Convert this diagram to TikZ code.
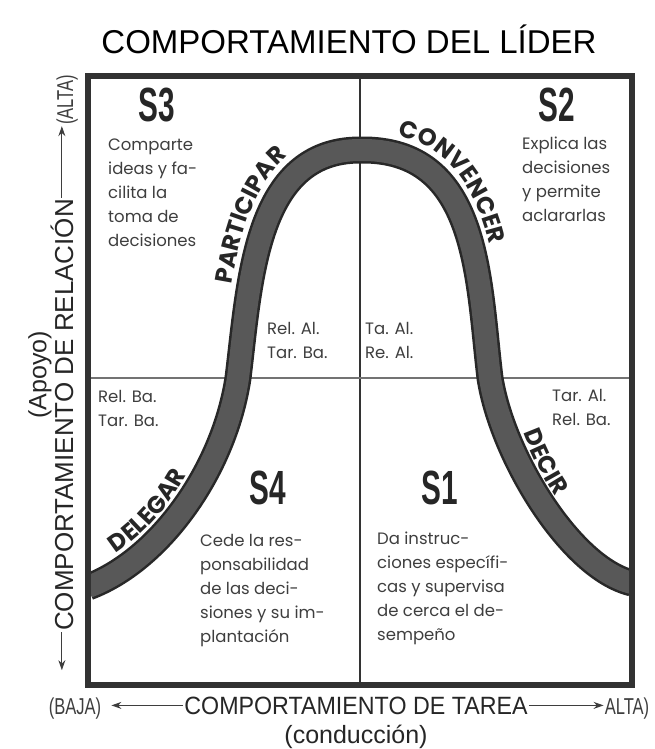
\documentclass[tikz,border=0pt]{standalone}
\usepackage{fontspec}
\usepackage{tikz}
\usetikzlibrary{arrows.meta,positioning,decorations.text}
\definecolor{bandGray}{RGB}{88,88,88}
\definecolor{bandEdge}{RGB}{40,40,40}
\definecolor{inkGray}{RGB}{62,62,62}
\definecolor{frameGray}{RGB}{50,50,50}
\newfontfamily\axisfont{Liberation Sans}
\newfontfamily\axisnarrow[FakeStretch=0.93]{Liberation Sans}
\newfontfamily\parenfont[FakeStretch=0.72]{Liberation Sans}
\newfontfamily\quadfont[FakeStretch=0.62]{Liberation Sans}
\newfontfamily\descfont{Poppins}
\newfontfamily\curvefamily[LetterSpace=7]{Poppins}
\newcommand\curvefont{\curvefamily\bfseries\fontsize{24}{24}\selectfont}

\begin{document}
\begin{tikzpicture}[x=1pt, y=-1pt,
        desc/.style={anchor=north west, inner sep=0pt, align=left, text=inkGray,
                     font=\descfont\fontsize{16.5}{24}\selectfont},
        quad/.style={inner sep=0pt, text=black!85, font=\quadfont\bfseries\fontsize{48}{48}\selectfont},
        axlbl/.style={inner sep=1pt, text=black!85, font=\axisfont\fontsize{25}{25}\selectfont},
        paren/.style={inner sep=1pt, text=inkGray, font=\parenfont\fontsize{23}{23}\selectfont},
        axarr/.style={-{Stealth[length=10pt,width=7pt]}, line width=1pt, inkGray},
        curvelbl/.style 2 args={decorate, decoration={text along path, text={|\curvefont|#1},
                     text align={left indent=#2}, text color=black!85}}
      ]
        \useasboundingbox (0,0) rectangle (654,749);
        % TITLE
        \node[font=\axisfont\fontsize{33}{33}\selectfont, anchor=base, inner sep=0pt] (title) at (349,54) {COMPORTAMIENTO DEL LÍDER};
        % QUADRANT LINES
        \draw[line width=1.4pt, black!80] (360,76) -- (360,685);
        \draw[line width=1.4pt, black!55] (88,378) -- (632,378);
        % BELL CURVE (clipped to the frame)
        \begin{scope}
          \clip (88,76) rectangle (632,685);
          \draw[line width=27pt, bandEdge, postaction={draw, line width=22pt, bandGray}]
            (88,587) .. controls (160,560) and (224,470) .. (238,378)
            .. controls (250,280) and (255,150) .. (360,150)
            .. controls (480,148) and (478,280) .. (490,378)
            .. controls (502,455) and (570,568) .. (632,583);
        \end{scope}
        % FRAME
        \draw[line width=6pt, frameGray] (88,76) rectangle (632,685);
        % Styles along the curve (baselines 18pt outside the band)
        \path[curvelbl={DELEGAR}{38pt}] (82,570) .. controls (154,543) and (206,467) .. (220,375);
        \path[curvelbl={PARTICIPAR}{92pt}] (220,376) .. controls (232,278) and (237,132) .. (360,132);
        \path[curvelbl={CONVENCER}{38pt}] (360,132) .. controls (498,130) and (496,278) .. (508,376);
        \path[curvelbl={DECIR}{60pt}] (508,375) .. controls (520,452) and (574,550) .. (636,566);
        % QUADRANTS
        \node[quad] (s3) at (157,105) {S3};
        \node[quad] (s2) at (557,105) {S2};
        \node[quad] (s4) at (268,488) {S4};
        \node[quad] (s1) at (440,488) {S1};
        \node[desc] (t3) at (108,139) {Comparte\\ideas y fa-\\cilita la\\toma de\\decisiones};
        \node[desc] (t2) at (522,137) {Explica las\\decisiones\\y permite\\aclararlas};
        \node[desc] (t4) at (200,534) {Cede la res-\\ponsabilidad\\de las deci-\\siones y su im-\\plantación};
        \node[desc] (t1) at (377,532) {Da instruc-\\ciones específi-\\cas y supervisa\\de cerca el de-\\sempeño};
        % Levels near the middle line
        \node[desc] (relAl) at (267,322) {Rel. Al.\\Tar. Ba.};
        \node[desc] (taAl) at (365,322) {Ta. Al.\\Re. Al.};
        \node[desc] (relBa) at (98,390) {Rel. Ba.\\Tar. Ba.};
        \node[desc] (tarAl) at (552,389) {Tar. Al.\\Rel. Ba.};
        % LEFT AXIS
        \node[axlbl, font=\axisfont\fontsize{26}{26}\selectfont, rotate=90, anchor=base] (rel) at (73,415) {COMPORTAMIENTO DE RELACIÓN};
        \node[paren, rotate=90, anchor=base] (altaL) at (73,100) {(ALTA)};
        \node[axlbl, rotate=90] (apoyo) at (40,375) {(Apoyo)};
        \draw[axarr] (rel.east) -- (rel.east |- altaL.west);
        \draw[axarr] (rel.west) -- ++(0,38);
        % BOTTOM AXIS
        \node[axlbl, font=\axisnarrow\fontsize{25}{25}\selectfont, anchor=base] (tarea) at (356,714) {COMPORTAMIENTO DE TAREA};
        \node[paren, anchor=base] (baja) at (75,714) {(BAJA)};
        \node[paren, anchor=base] (altaB) at (627,714) {ALTA)};
        \node[axlbl, anchor=base] (cond) at (356,743) {(conducción)};
        \draw[axarr, shorten >=9pt] (tarea.west) -- (tarea.west -| baja.east);
        \draw[axarr] (tarea.east) -- (tarea.east -| altaB.west);
      \end{tikzpicture}
\end{document}
